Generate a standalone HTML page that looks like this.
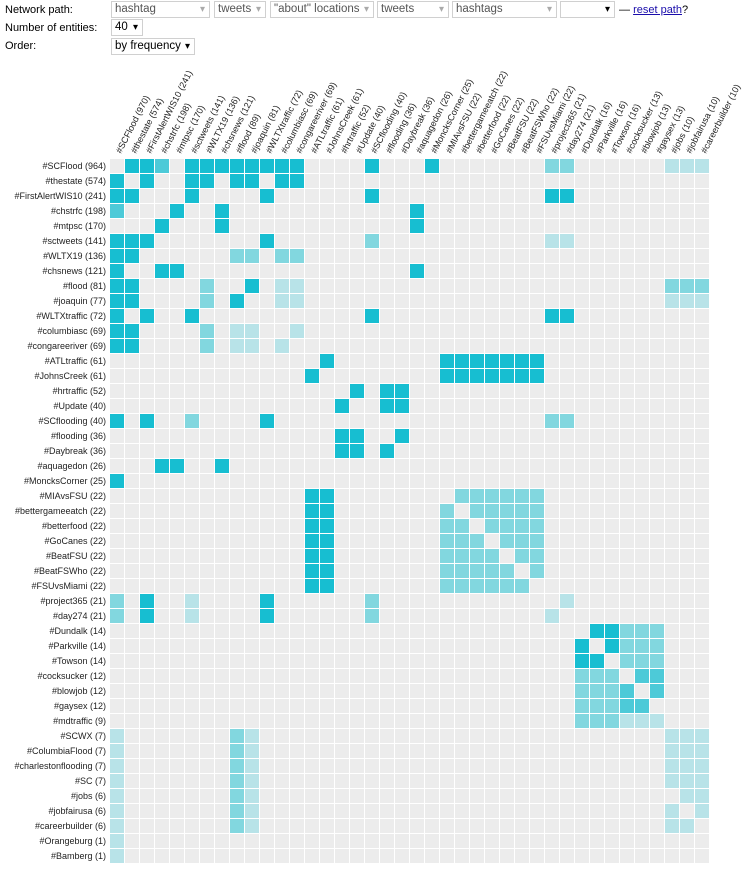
<!DOCTYPE html>
<html><head><meta charset="utf-8">
<style>
body{margin:0;width:749px;height:879px;background:#fff;font-family:"Liberation Sans",Arial,sans-serif;position:relative;overflow:hidden}
.l{position:absolute;font-size:11px;color:#000}
.s{position:absolute;height:17px;border:1px solid #d0d0d0;box-sizing:border-box;font-size:11.5px;color:#555;line-height:15px;padding-left:3px;background:#fff}
.s:after{content:"\25BE";position:absolute;right:4px;top:0;font-size:10px;color:#aaa}
.s.k{color:#000}.s.k:after{color:#000}
svg{position:absolute;left:0;top:0}
</style></head><body>
<div class="l" style="left:5px;top:4px">Network path:</div>
<div class="s" style="left:111px;top:1px;width:99px">hashtag</div>
<div class="s" style="left:214px;top:1px;width:52px">tweets</div>
<div class="s" style="left:270px;top:1px;width:104px">"about" locations</div>
<div class="s" style="left:377px;top:1px;width:72px">tweets</div>
<div class="s" style="left:452px;top:1px;width:105px">hashtags</div>
<div class="s k" style="left:560px;top:1px;width:55px"></div>
<div class="l" style="left:619px;top:4px">— <span style="color:#1a0dab;text-decoration:underline">reset path</span>?</div>
<div class="l" style="left:5px;top:22px">Number of entities:</div>
<div class="s k" style="left:111px;top:19px;width:32px">40</div>
<div class="l" style="left:5px;top:40px">Order:</div>
<div class="s k" style="left:111px;top:38px;width:84px">by frequency</div>
<svg width="749" height="879" xmlns="http://www.w3.org/2000/svg">
<defs><pattern id="p" x="110" y="159" width="15" height="15" patternUnits="userSpaceOnUse"><rect width="14" height="14" fill="#ececec"/></pattern></defs>
<rect x="110" y="159" width="600" height="705" fill="url(#p)"/>
<g id="cells"></g>
<g font-size="9" fill="#222" text-anchor="end" font-family="Liberation Sans, Arial, sans-serif">
<text x="106" y="169">#SCFlood (964)</text>
<text x="106" y="184">#thestate (574)</text>
<text x="106" y="199">#FirstAlertWIS10 (241)</text>
<text x="106" y="214">#chstrfc (198)</text>
<text x="106" y="229">#mtpsc (170)</text>
<text x="106" y="244">#sctweets (141)</text>
<text x="106" y="259">#WLTX19 (136)</text>
<text x="106" y="274">#chsnews (121)</text>
<text x="106" y="289">#flood (81)</text>
<text x="106" y="304">#joaquin (77)</text>
<text x="106" y="319">#WLTXtraffic (72)</text>
<text x="106" y="334">#columbiasc (69)</text>
<text x="106" y="349">#congareeriver (69)</text>
<text x="106" y="364">#ATLtraffic (61)</text>
<text x="106" y="379">#JohnsCreek (61)</text>
<text x="106" y="394">#hrtraffic (52)</text>
<text x="106" y="409">#Update (40)</text>
<text x="106" y="424">#SCflooding (40)</text>
<text x="106" y="439">#flooding (36)</text>
<text x="106" y="454">#Daybreak (36)</text>
<text x="106" y="469">#aquagedon (26)</text>
<text x="106" y="484">#MoncksCorner (25)</text>
<text x="106" y="499">#MIAvsFSU (22)</text>
<text x="106" y="514">#bettergameeatch (22)</text>
<text x="106" y="529">#betterfood (22)</text>
<text x="106" y="544">#GoCanes (22)</text>
<text x="106" y="559">#BeatFSU (22)</text>
<text x="106" y="574">#BeatFSWho (22)</text>
<text x="106" y="589">#FSUvsMiami (22)</text>
<text x="106" y="604">#project365 (21)</text>
<text x="106" y="619">#day274 (21)</text>
<text x="106" y="634">#Dundalk (14)</text>
<text x="106" y="649">#Parkville (14)</text>
<text x="106" y="664">#Towson (14)</text>
<text x="106" y="679">#cocksucker (12)</text>
<text x="106" y="694">#blowjob (12)</text>
<text x="106" y="709">#gaysex (12)</text>
<text x="106" y="724">#mdtraffic (9)</text>
<text x="106" y="739">#SCWX (7)</text>
<text x="106" y="754">#ColumbiaFlood (7)</text>
<text x="106" y="769">#charlestonflooding (7)</text>
<text x="106" y="784">#SC (7)</text>
<text x="106" y="799">#jobs (6)</text>
<text x="106" y="814">#jobfairusa (6)</text>
<text x="106" y="829">#careerbuilder (6)</text>
<text x="106" y="844">#Orangeburg (1)</text>
<text x="106" y="859">#Bamberg (1)</text>
</g>
<g font-size="9" fill="#222" font-family="Liberation Sans, Arial, sans-serif">
<text transform="translate(121,154) rotate(-63)">#SCFlood (970)</text>
<text transform="translate(136,154) rotate(-63)">#thestate (574)</text>
<text transform="translate(151,154) rotate(-63)">#FirstAlertWIS10 (241)</text>
<text transform="translate(166,154) rotate(-63)">#chstrfc (198)</text>
<text transform="translate(181,154) rotate(-63)">#mtpsc (170)</text>
<text transform="translate(196,154) rotate(-63)">#sctweets (141)</text>
<text transform="translate(211,154) rotate(-63)">#WLTX19 (136)</text>
<text transform="translate(226,154) rotate(-63)">#chsnews (121)</text>
<text transform="translate(241,154) rotate(-63)">#flood (89)</text>
<text transform="translate(256,154) rotate(-63)">#joaquin (81)</text>
<text transform="translate(271,154) rotate(-63)">#WLTXtraffic (72)</text>
<text transform="translate(286,154) rotate(-63)">#columbiasc (69)</text>
<text transform="translate(301,154) rotate(-63)">#congareeriver (69)</text>
<text transform="translate(316,154) rotate(-63)">#ATLtraffic (61)</text>
<text transform="translate(331,154) rotate(-63)">#JohnsCreek (61)</text>
<text transform="translate(346,154) rotate(-63)">#hrtraffic (52)</text>
<text transform="translate(361,154) rotate(-63)">#Update (40)</text>
<text transform="translate(376,154) rotate(-63)">#SCflooding (40)</text>
<text transform="translate(391,154) rotate(-63)">#flooding (36)</text>
<text transform="translate(406,154) rotate(-63)">#Daybreak (36)</text>
<text transform="translate(421,154) rotate(-63)">#aquagedon (26)</text>
<text transform="translate(436,154) rotate(-63)">#MoncksCorner (25)</text>
<text transform="translate(451,154) rotate(-63)">#MIAvsFSU (22)</text>
<text transform="translate(466,154) rotate(-63)">#bettergameeatch (22)</text>
<text transform="translate(481,154) rotate(-63)">#betterfood (22)</text>
<text transform="translate(496,154) rotate(-63)">#GoCanes (22)</text>
<text transform="translate(511,154) rotate(-63)">#BeatFSU (22)</text>
<text transform="translate(526,154) rotate(-63)">#BeatFSWho (22)</text>
<text transform="translate(541,154) rotate(-63)">#FSUvsMiami (22)</text>
<text transform="translate(556,154) rotate(-63)">#project365 (21)</text>
<text transform="translate(571,154) rotate(-63)">#day274 (21)</text>
<text transform="translate(586,154) rotate(-63)">#Dundalk (16)</text>
<text transform="translate(601,154) rotate(-63)">#Parkville (16)</text>
<text transform="translate(616,154) rotate(-63)">#Towson (16)</text>
<text transform="translate(631,154) rotate(-63)">#cocksucker (13)</text>
<text transform="translate(646,154) rotate(-63)">#blowjob (13)</text>
<text transform="translate(661,154) rotate(-63)">#gaysex (13)</text>
<text transform="translate(676,154) rotate(-63)">#jobs (10)</text>
<text transform="translate(691,154) rotate(-63)">#jobfairusa (10)</text>
<text transform="translate(706,154) rotate(-63)">#careerbuilder (10)</text>
</g>
</svg>
<script>
var C={D:"#17bed1",m:"#4dcad8",M:"#82d7df",L:"#b8e3e8"};
var g=document.getElementById("cells"),out="";
function s(r,cols,l){cols.forEach(function(c){out+='<rect x="'+(110+15*c)+'" y="'+(159+15*r)+'" width="14" height="14" fill="'+C[l]+'"/>';});}
function rg(a,b){var x=[];for(var i=a;i<=b;i++)x.push(i);return x;}
s(0,[1,2,5,6,7,8,9,10,11,12,17,21],"D");s(0,[3],"m");s(0,[29,30],"M");s(0,[37,38,39],"L");
s(1,[0,2,5,6,8,9,11,12],"D");
s(2,[0,1,5,10,17,29,30],"D");
s(3,[4,7,20],"D");s(3,[0],"m");
s(4,[3,7,20],"D");
s(5,[0,1,2,10],"D");s(5,[17],"M");s(5,[29,30],"L");
s(6,[0,1],"D");s(6,[8,9,11,12],"M");
s(7,[0,3,4,20],"D");
s(8,[0,1,9],"D");s(8,[6,37,38,39],"M");s(8,[11,12],"L");
s(9,[0,1,8],"D");s(9,[6],"M");s(9,[11,12,37,38,39],"L");
s(10,[0,2,5,17,29,30],"D");
s(11,[0,1],"D");s(11,[6],"M");s(11,[8,9,12],"L");
s(12,[0,1],"D");s(12,[6],"M");s(12,[8,9,11],"L");
s(13,[14].concat(rg(22,28)),"D");
s(14,[13].concat(rg(22,28)),"D");
s(15,[16,18,19],"D");s(16,[15,18,19],"D");
s(17,[0,2,10],"D");s(17,[5,29,30],"M");
s(18,[15,16,19],"D");s(19,[15,16,18],"D");
s(20,[3,4,7],"D");s(21,[0],"D");
for(var r=22;r<=28;r++){s(r,[13,14],"D");s(r,rg(22,28).filter(function(c){return c!==r;}),"M");}
s(29,[2,10],"D");s(29,[0,17],"M");s(29,[5,30],"L");
s(30,[2,10],"D");s(30,[0,17],"M");s(30,[5,29],"L");
s(31,[32,33],"D");s(31,[34,35,36],"M");
s(32,[31,33],"D");s(32,[34,35,36],"M");
s(33,[31,32],"D");s(33,[34,35,36],"M");
for(var r=34;r<=36;r++){s(r,[31,32,33],"M");s(r,[34,35,36].filter(function(c){return c!==r;}),"m");}
s(37,[31,32,33],"M");s(37,[34,35,36],"L");
for(var r=38;r<=44;r++){s(r,[0,9],"L");s(r,[8],"M");s(r,[37,38,39].filter(function(c){return c!==r-5;}),"L");}
s(45,[0],"L");s(46,[0],"L");
g.innerHTML=out;
</script>
</body></html>
